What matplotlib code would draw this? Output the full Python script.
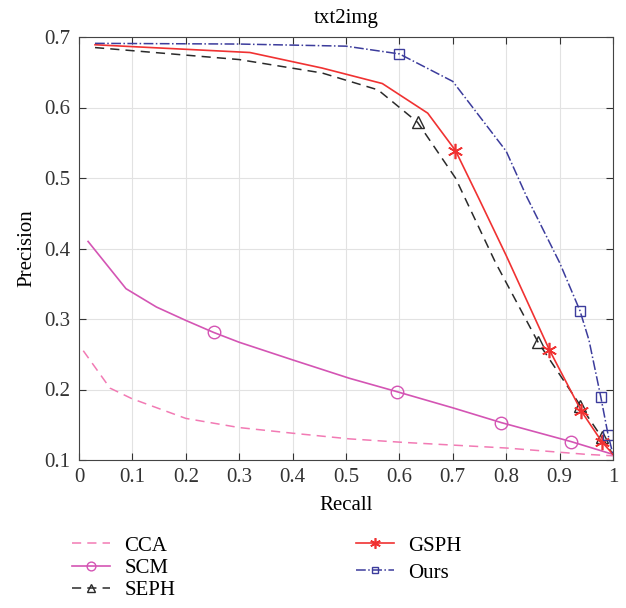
import matplotlib
matplotlib.use('Agg')
import matplotlib.pyplot as plt

plt.rcParams['font.family'] = ['Liberation Serif', 'DejaVu Serif']

# Precision-recall values
cca_r = [0.008, 0.058, 0.099, 0.2, 0.3, 0.4, 0.506, 0.607, 0.8, 0.95, 1.0]
cca_p = [0.255, 0.202, 0.187, 0.159, 0.146, 0.138, 0.130, 0.125, 0.117, 0.108, 0.106]

scm_r = [0.017, 0.088, 0.145, 0.2, 0.252, 0.3, 0.4, 0.506, 0.595, 0.7, 0.791, 0.922, 1.0]
scm_p = [0.41, 0.343, 0.317, 0.298, 0.281, 0.267, 0.242, 0.216, 0.197, 0.174, 0.153, 0.126, 0.108]
scm_mk = [4, 8, 10, 11]

seph_r = [0.03, 0.30, 0.455, 0.56, 0.634, 0.705, 0.78, 0.859, 0.939, 0.979, 1.0]
seph_p = [0.685, 0.668, 0.649, 0.625, 0.579, 0.5, 0.38, 0.268, 0.177, 0.132, 0.108]
seph_mk = [4, 7, 8, 9]

gsph_r = [0.03, 0.32, 0.455, 0.568, 0.653, 0.705, 0.75, 0.8, 0.881, 0.941, 0.979, 1.0]
gsph_p = [0.689, 0.678, 0.656, 0.634, 0.592, 0.539, 0.469, 0.39, 0.256, 0.169, 0.126, 0.108]
gsph_mk = [5, 8, 9, 10]

ours_r = [0.03, 0.3, 0.5, 0.6, 0.7, 0.8, 0.838, 0.9, 0.938, 0.955, 0.977, 0.991, 1.0]
ours_p = [0.691, 0.690, 0.687, 0.676, 0.637, 0.538, 0.474, 0.38, 0.312, 0.27, 0.19, 0.135, 0.108]
ours_mk = [3, 8, 10, 11]

fig = plt.figure(figsize=(6.26, 6.08), dpi=100)
ax = fig.add_axes([79 / 626, 1 - 460 / 608, 534 / 626, 423 / 608])

l1, = ax.plot(cca_r, cca_p, '--', color='#f27ab4', lw=1.1, dashes=(6, 4), label='CCA')
l2, = ax.plot(scm_r, scm_p, '-', color='#d455b4', lw=1.2, marker='o', markevery=scm_mk,
              ms=9, mfc='none', mew=1.0, label='SCM')
l3, = ax.plot(seph_r, seph_p, '--', color='#2a2a2a', lw=1.1, dashes=(6, 4), marker='^',
              markevery=seph_mk, ms=8, mfc='none', mew=1.0, label='SEPH')
l4, = ax.plot(gsph_r, gsph_p, '-', color='#f03232', lw=1.2, marker=(6, 2, 0),
              markevery=gsph_mk, ms=11, mew=1.2, label='GSPH')
l5, = ax.plot(ours_r, ours_p, '-.', color='#3c3c9c', lw=1.1, marker='s', markevery=ours_mk,
              ms=7, mfc='none', mew=1.0, label='Ours')

ax.set_xlim(0, 1)
ax.set_ylim(0.1, 0.7)
ax.set_xticks([i / 10 for i in range(11)])
ax.set_xticklabels(['0', '0.1', '0.2', '0.3', '0.4', '0.5', '0.6', '0.7', '0.8', '0.9', '1'])
ax.set_yticks([0.1, 0.2, 0.3, 0.4, 0.5, 0.6, 0.7])
ax.tick_params(direction='in', top=True, right=True, labelsize=15, length=5,
               colors='#333333', pad=6)
ax.grid(True, color='#e2e2e2', lw=0.8)
for s in ax.spines.values():
    s.set_color('#444444')
ax.set_xlabel('Recall', fontsize=15, labelpad=6)
ax.set_ylabel('Precision', fontsize=15, labelpad=6)
ax.set_title('txt2img', fontsize=15, pad=10)

opts = dict(loc='upper left', frameon=False, fontsize=15, handlelength=1.8,
            handletextpad=0.7, markerscale=0.7, borderaxespad=0, borderpad=0.2)
leg1 = fig.legend(handles=[l1, l2, l3], bbox_to_anchor=(68 / 626, 1 - 532 / 608),
                  labelspacing=0.12, **opts)
fig.legend(handles=[l4, l5], bbox_to_anchor=(352 / 626, 1 - 532 / 608),
           labelspacing=0.35, **opts)

fig.savefig('out.png', dpi=100)
